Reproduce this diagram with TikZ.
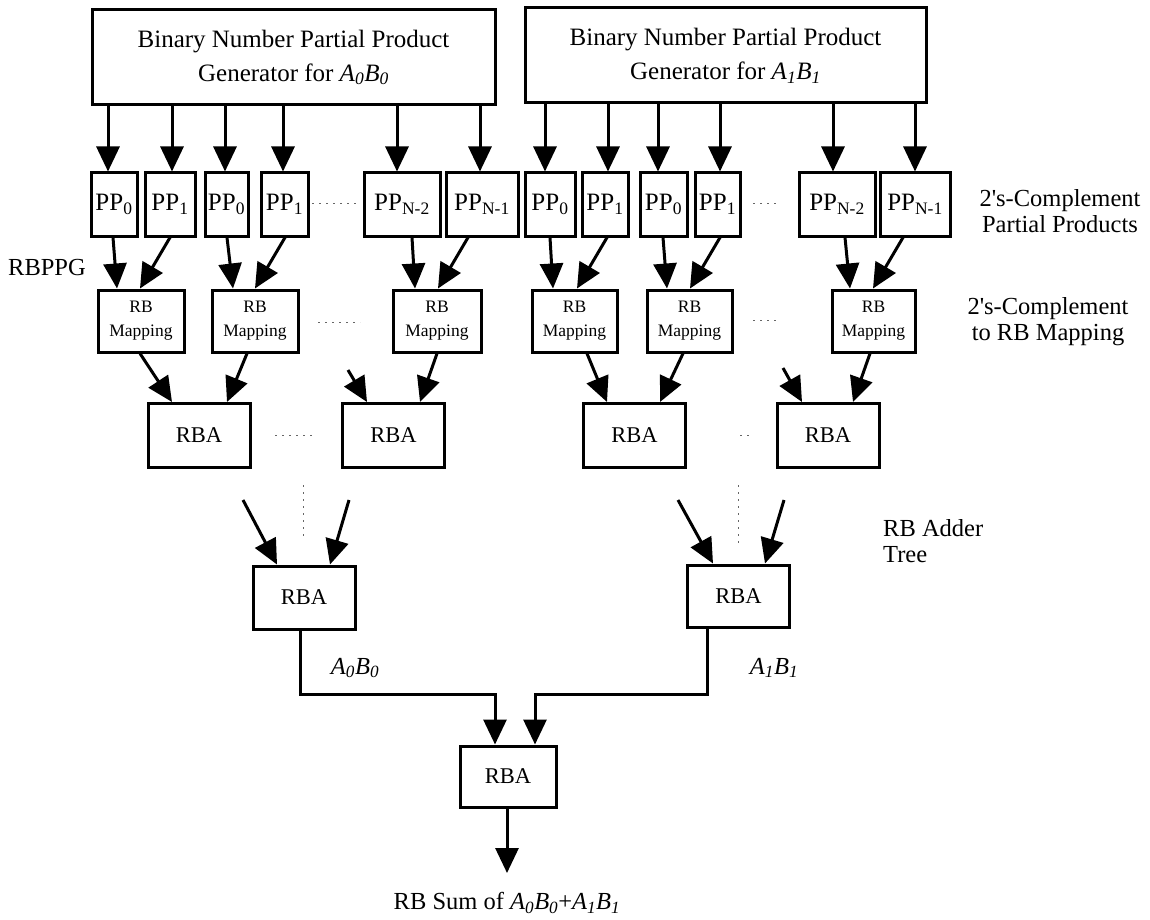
\documentclass[tikz,border=0pt]{standalone}
\usepackage{fontspec}
\setmainfont{Liberation Serif}
\usetikzlibrary{arrows.meta,calc}
\newcommand{\ABx}[1]{\textit{A}\textsubscript{\textit{#1}}\textit{B}\textsubscript{\textit{#1}}}
\newcommand{\PPx}[1]{PP\textsubscript{#1}}
\begin{document}
\begin{tikzpicture}[x=1pt,y=-1pt,
  box/.style={draw, line width=3pt, inner sep=0pt, align=center},
  genbox/.style={box, minimum height=95pt, font=\fontsize{25}{34}\selectfont},
  ppbox/.style={box, minimum height=63pt, font=\fontsize{25}{30}\selectfont},
  mapbox/.style={box, minimum height=62pt, font=\fontsize{17.5}{24}\selectfont},
  rbabox/.style={box, minimum height=64pt, minimum width=102pt, font=\fontsize{22.5}{26}\selectfont},
  arr/.style={line width=3pt, -{Triangle[width=23pt,length=25pt]}},
  dots/.style={line width=0.8pt, dash pattern=on 2pt off 5pt, black!60},
  lab/.style={font=\fontsize{24.5}{26}\selectfont, align=center, inner sep=0pt}
]
\useasboundingbox (0,0) rectangle (1150,920);

% generators
\node[genbox, minimum width=403pt] (gen0) at (293.5,57.5) {Binary Number Partial Product\\Generator for \ABx{0}};
\node[genbox, minimum width=401pt] (gen1) at (725.5,55.5) {Binary Number Partial Product\\Generator for \ABx{1}};

% partial products
\node[ppbox, minimum width=46pt] (pa0) at (114,204.5) {\PPx{0}};
\node[ppbox, minimum width=50pt] (pa1) at (170,204.5) {\PPx{1}};
\node[ppbox, minimum width=43pt] (pa2) at (226.5,204.5) {\PPx{0}};
\node[ppbox, minimum width=47pt] (pa3) at (284.5,204.5) {\PPx{1}};
\node[ppbox, minimum width=76pt] (pa4) at (402,204.5) {\PPx{N-2}};
\node[ppbox, minimum width=72pt] (pa5) at (482,204.5) {\PPx{N-1}};
\node[ppbox, minimum width=50pt] (pb0) at (550,204.5) {\PPx{0}};
\node[ppbox, minimum width=46pt] (pb1) at (605,204.5) {\PPx{1}};
\node[ppbox, minimum width=47pt] (pb2) at (663.5,204.5) {\PPx{0}};
\node[ppbox, minimum width=45pt] (pb3) at (717.5,204.5) {\PPx{1}};
\node[ppbox, minimum width=76pt] (pb4) at (837,204.5) {\PPx{N-2}};
\node[ppbox, minimum width=70pt] (pb5) at (915,204.5) {\PPx{N-1}};

% RB mapping
\node[mapbox, minimum width=86pt] (ra0) at (141,321) {RB\\Mapping};
\node[mapbox, minimum width=86pt] (ra1) at (255,321) {RB\\Mapping};
\node[mapbox, minimum width=88pt] (ra2) at (437,321) {RB\\Mapping};
\node[mapbox, minimum width=85pt] (rb0) at (574.5,321) {RB\\Mapping};
\node[mapbox, minimum width=85pt] (rb1) at (689.5,321) {RB\\Mapping};
\node[mapbox, minimum width=83pt] (rb2) at (873.5,321) {RB\\Mapping};

% RBA rows
\node[rbabox] (ba0) at (199,435.5) {RBA};
\node[rbabox] (ba1) at (393.5,435.5) {RBA};
\node[rbabox] (bb0) at (634.5,435.5) {RBA};
\node[rbabox] (bb1) at (828,435.5) {RBA};
\node[rbabox, minimum height=63pt] (ca) at (304,597.5) {RBA};
\node[rbabox, minimum height=62pt] (cb) at (738.5,596) {RBA};
\node[rbabox, minimum width=96pt, minimum height=61pt] (fin) at (508,776.5) {RBA};

% free ends
\coordinate (l1) at (348,370);
\coordinate (l2) at (783,368);
\coordinate (m1) at (243,500);
\coordinate (m2) at (349,500);
\coordinate (m3) at (678,500);
\coordinate (m4) at (784,500);
\coordinate (out) at (507,873);

% generator -> PP
\foreach \n/\d in {pa0/-6pt, pa1/2pt, pa2/-1.5pt, pa3/-1.5pt, pa4/-5pt, pa5/-2pt}
  \draw[arr] ([xshift=\d]\n.north |- gen0.south) -- ([xshift=\d]\n.north);
\foreach \n/\d in {pb0/-5pt, pb1/3pt, pb2/-5.5pt, pb3/2.5pt, pb4/-4pt, pb5/0pt}
  \draw[arr] ([xshift=\d]\n.north |- gen1.south) -- ([xshift=\d]\n.north);

% PP -> mapping
\draw[arr] ([xshift=-1pt]pa0.south) -- ([xshift=-24pt]ra0.north);
\draw[arr] ([xshift=0pt]pa1.south) -- ([xshift=-1pt]ra0.north);
\draw[arr] ([xshift=0.5pt]pa2.south) -- ([xshift=-22pt]ra1.north);
\draw[arr] ([xshift=0.5pt]pa3.south) -- ([xshift=0pt]ra1.north);
\draw[arr] ([xshift=10pt]pa4.south) -- ([xshift=-22pt]ra2.north);
\draw[arr] ([xshift=-14pt]pa5.south) -- ([xshift=1pt]ra2.north);
\draw[arr] ([xshift=0pt]pb0.south) -- ([xshift=-21.5pt]rb0.north);
\draw[arr] ([xshift=2pt]pb1.south) -- ([xshift=2.5pt]rb0.north);
\draw[arr] ([xshift=-0.5pt]pb2.south) -- ([xshift=-22.5pt]rb1.north);
\draw[arr] ([xshift=2.5pt]pb3.south) -- ([xshift=0.5pt]rb1.north);
\draw[arr] ([xshift=8pt]pb4.south) -- ([xshift=-23.5pt]rb2.north);
\draw[arr] ([xshift=-12pt]pb5.south) -- ([xshift=-0.5pt]rb2.north);

% mapping -> RBA
\draw[arr] ([xshift=-1pt]ra0.south) -- ([xshift=-27pt]ba0.north);
\draw[arr] ([xshift=-8pt]ra1.south) -- ([xshift=28pt]ba0.north);
\draw[arr] (l1) -- ([xshift=-26.5pt]ba1.north);
\draw[arr] ([xshift=0pt]ra2.south) -- ([xshift=26.5pt]ba1.north);
\draw[arr] ([xshift=12.5pt]rb0.south) -- ([xshift=-27.5pt]bb0.north);
\draw[arr] ([xshift=-6.5pt]rb1.south) -- ([xshift=25.5pt]bb0.north);
\draw[arr] (l2) -- ([xshift=-26pt]bb1.north);
\draw[arr] ([xshift=-3.5pt]rb2.south) -- ([xshift=25pt]bb1.north);

% into second level
\draw[arr] (m1) -- ([xshift=-27pt]ca.north);
\draw[arr] (m2) -- ([xshift=26pt]ca.north);
\draw[arr] (m3) -- ([xshift=-25.5pt]cb.north);
\draw[arr] (m4) -- ([xshift=26.5pt]cb.north);

% into final
\draw[arr] ([xshift=-4pt]ca.south) -- ++(0,64) -| ([xshift=-13pt]fin.north);
\draw[arr] ([xshift=-31.5pt]cb.south) -- ++(0,66) -| ([xshift=27pt]fin.north);
\draw[arr] ([xshift=-1pt]fin.south) -- (out);

% ellipsis dots
\draw[dots] (312,203) -- (358,203);
\draw[dots] (753,203) -- (780,203);
\draw[dots] (318,322) -- (360,322);
\draw[dots] (753,320) -- (780,320);
\draw[dots] (275,435) -- (315,435);
\draw[dots] (740,435) -- (752,435);
\draw[dots] (303,485) -- (303,537);
\draw[dots] (738,485) -- (738,545);

% labels
\node[lab] (lpp) at (1060,211) {2\textquotesingle s-Complement\\Partial Products};
\node[lab] (lmap) at (1048,322) {2\textquotesingle s-Complement\\to RB Mapping};
\node[lab, anchor=west, align=left] (ltree) at (883,541) {RB Adder\\Tree};
\node[lab, anchor=east] (lppg) at (86,268) {RBPPG};
\node[lab] (lab0) at (355,668) {\ABx{0}};
\node[lab] (lab1) at (774,668) {\ABx{1}};
\node[lab] (lsum) at (507,903) {RB Sum of \ABx{0}+\ABx{1}};
\end{tikzpicture}
\end{document}
